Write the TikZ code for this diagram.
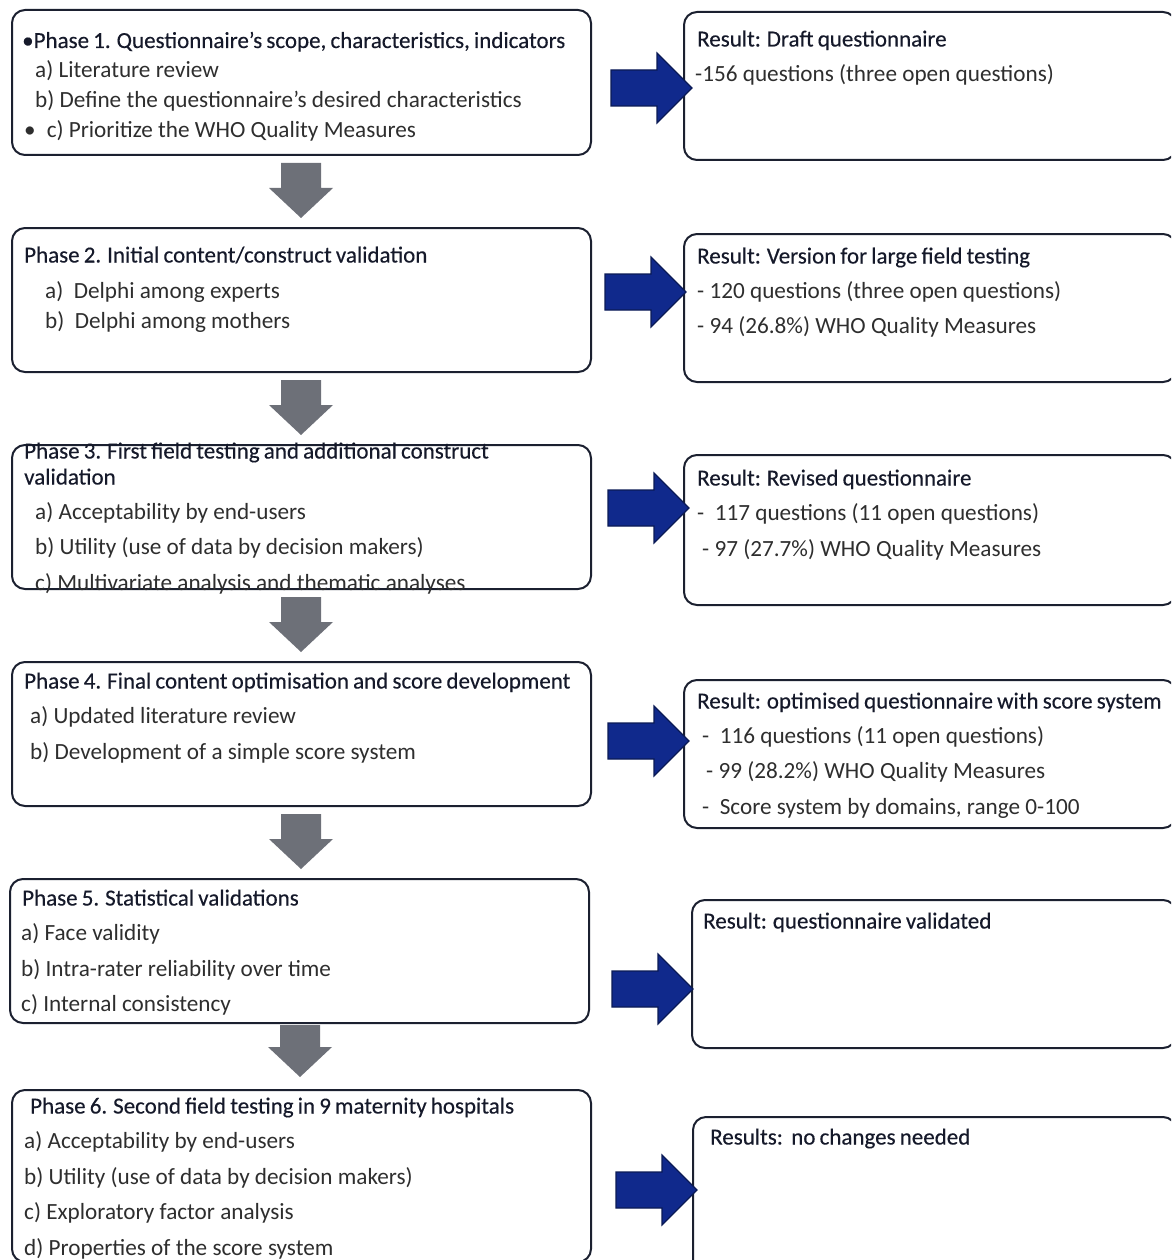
\documentclass[tikz,border=0pt]{standalone}
\usepackage{fontspec}
\setmainfont{Carlito}
\newfontfamily\headfont[WordSpace=0.8, FakeBold=0.3]{Carlito}
\usepackage{xcolor}
\usepackage{tikz}

\definecolor{boxline}{HTML}{1B2030}
\definecolor{navyfill}{HTML}{10298C}
\definecolor{navyline}{HTML}{0A1A55}
\definecolor{greyarrow}{HTML}{6D7078}
\definecolor{headcol}{HTML}{15192A}
\definecolor{itemcol}{HTML}{2E2E2E}

\begin{document}
\begin{tikzpicture}[x=1pt, y=-1pt,
  phasebox/.style={draw=boxline, line width=2pt, rounded corners=13pt},
  downarrow/.style={fill=greyarrow, draw=none},
  rightarrow/.style={fill=navyfill, draw=navyline, line width=1.2pt, line join=miter},
  headtxt/.style={anchor=base west, inner sep=0pt, text=headcol, font=\headfont\fontsize{23}{27}\selectfont},
  itemtxt/.style={anchor=base west, inner sep=0pt, text=itemcol, font=\fontsize{23.2}{28}\selectfont}]
  \useasboundingbox (0,0) rectangle (1171,1260);
  \clip (0,0) rectangle (1171,1260);

  % phase boxes
  \draw[phasebox] (12,10) rectangle (591,155);
  \draw[phasebox] (12,228) rectangle (591,372);
  \draw[phasebox] (12,445) rectangle (591,589);
  \draw[phasebox] (12,662) rectangle (591,806);
  \draw[phasebox] (10,879) rectangle (589,1023);
  \draw[phasebox] (12,1090) rectangle (591,1262);

  % result boxes
  \draw[phasebox] (684,12) rectangle (1176,160);
  \draw[phasebox] (684,234) rectangle (1176,382);
  \draw[phasebox] (684,455) rectangle (1176,605);
  \draw[phasebox] (684,680) rectangle (1176,828);
  \draw[phasebox] (692,900) rectangle (1176,1048);
  \draw[phasebox] (693,1117) rectangle (1176,1290);

  % grey arrows down
  \draw[downarrow, shift={(301,218)}] (-20,-55) -- (20,-55) -- (20,-30) -- (32,-30) -- (0,0) -- (-32,-30) -- (-20,-30) -- cycle;
  \draw[downarrow, shift={(301,435)}] (-20,-55) -- (20,-55) -- (20,-30) -- (32,-30) -- (0,0) -- (-32,-30) -- (-20,-30) -- cycle;
  \draw[downarrow, shift={(301,652)}] (-20,-55) -- (20,-55) -- (20,-30) -- (32,-30) -- (0,0) -- (-32,-30) -- (-20,-30) -- cycle;
  \draw[downarrow, shift={(301,869)}] (-20,-55) -- (20,-55) -- (20,-30) -- (32,-30) -- (0,0) -- (-32,-30) -- (-20,-30) -- cycle;
  \draw[downarrow, shift={(300,1077)}] (-20,-52) -- (20,-52) -- (20,-30) -- (32,-30) -- (0,0) -- (-32,-30) -- (-20,-30) -- cycle;

  % blue arrows right
  \draw[rightarrow, shift={(692,88)}] (-81,-18) -- (-35,-18) -- (-35,-35) -- (0,0) -- (-35,35) -- (-35,18) -- (-81,18) -- cycle;
  \draw[rightarrow, shift={(686,292)}] (-81,-18) -- (-35,-18) -- (-35,-35) -- (0,0) -- (-35,35) -- (-35,18) -- (-81,18) -- cycle;
  \draw[rightarrow, shift={(689,508)}] (-81,-18) -- (-35,-18) -- (-35,-35) -- (0,0) -- (-35,35) -- (-35,18) -- (-81,18) -- cycle;
  \draw[rightarrow, shift={(689,741)}] (-81,-18) -- (-35,-18) -- (-35,-35) -- (0,0) -- (-35,35) -- (-35,18) -- (-81,18) -- cycle;
  \draw[rightarrow, shift={(693,989)}] (-81,-18) -- (-35,-18) -- (-35,-35) -- (0,0) -- (-35,35) -- (-35,18) -- (-81,18) -- cycle;
  \draw[rightarrow, shift={(697,1190)}] (-81,-18) -- (-35,-18) -- (-35,-35) -- (0,0) -- (-35,35) -- (-35,18) -- (-81,18) -- cycle;

  % phase 1
  \node[headtxt] (p1h) at (22,48) {•Phase 1. Questionnaire’s scope, characteristics, indicators};
  \node[itemtxt] (p1a) at (35,77.5) {a) Literature review};
  \node[itemtxt] (p1b) at (35,107.5) {b) Define the questionnaire’s desired characteristics};
  \node[itemtxt] (p1c) at (24,137.5) {•\hspace{11pt}c) Prioritize the WHO Quality Measures};
  % phase 2
  \node[headtxt] (p2h) at (24,262.5) {Phase 2. Initial content/construct validation};
  \node[itemtxt] (p2a) at (45,298.5) {a)\ \ Delphi among experts};
  \node[itemtxt] (p2b) at (45,328.5) {b)\ \ Delphi among mothers};
  % phase 3
  \node[headtxt] (p3h) at (24,458.5) {Phase 3. First field testing and additional construct};
  \node[headtxt] (p3h2) at (24,484.5) {validation};
  \node[itemtxt] (p3a) at (35,519.5) {a) Acceptability by end-users};
  \node[itemtxt] (p3b) at (35,554.5) {b) Utility (use of data by decision makers)};
  \node[itemtxt] (p3c) at (35,590) {c) Multivariate analysis and thematic analyses};
  % phase 4
  \node[headtxt] (p4h) at (24,688.5) {Phase 4. Final content optimisation and score development};
  \node[itemtxt] (p4a) at (30,723.5) {a) Updated literature review};
  \node[itemtxt] (p4b) at (30,759.5) {b) Development of a simple score system};
  % phase 5
  \node[headtxt] (p5h) at (22,905.5) {Phase 5. Statistical validations};
  \node[itemtxt] (p5a) at (21,940.5) {a) Face validity};
  \node[itemtxt] (p5b) at (21,976.5) {b) Intra-rater reliability over time};
  \node[itemtxt] (p5c) at (21,1011.5) {c) Internal consistency};
  % phase 6
  \node[headtxt] (p6h) at (30,1113.5) {Phase 6. Second field testing in 9 maternity hospitals};
  \node[itemtxt] (p6a) at (24,1148.5) {a) Acceptability by end-users};
  \node[itemtxt] (p6b) at (24,1184.5) {b) Utility (use of data by decision makers)};
  \node[itemtxt] (p6c) at (24,1219.5) {c) Exploratory factor analysis};
  \node[itemtxt] (p6d) at (24,1255.5) {d) Properties of the score system};

  % results
  \node[headtxt] (r1h) at (697,46.5) {Result: Draft questionnaire};
  \node[itemtxt] (r1a) at (695,81.5) {-156 questions (three open questions)};
  \node[headtxt] (r2h) at (697,263.5) {Result: Version for large field testing};
  \node[itemtxt] (r2a) at (697,298.5) {- 120 questions (three open questions)};
  \node[itemtxt] (r2b) at (697,333.5) {- 94 (26.8\%) WHO Quality Measures};
  \node[headtxt] (r3h) at (697,485.5) {Result: Revised questionnaire};
  \node[itemtxt] (r3a) at (697,520.5) {-\ \ 117 questions (11 open questions)};
  \node[itemtxt] (r3b) at (702,556.5) {- 97 (27.7\%) WHO Quality Measures};
  \node[headtxt] (r4h) at (697,708.5) {Result: optimised questionnaire with score system};
  \node[itemtxt] (r4a) at (702,743.5) {-\ \ 116 questions (11 open questions)};
  \node[itemtxt] (r4b) at (706,778.5) {- 99 (28.2\%) WHO Quality Measures};
  \node[itemtxt] (r4c) at (702,814.5) {-\ \ Score system by domains, range 0-100};
  \node[headtxt] (r5h) at (703,928.5) {Result: questionnaire validated};
  \node[headtxt] (r6h) at (710,1144.5) {Results:\ \ no changes needed};
\end{tikzpicture}
\end{document}
